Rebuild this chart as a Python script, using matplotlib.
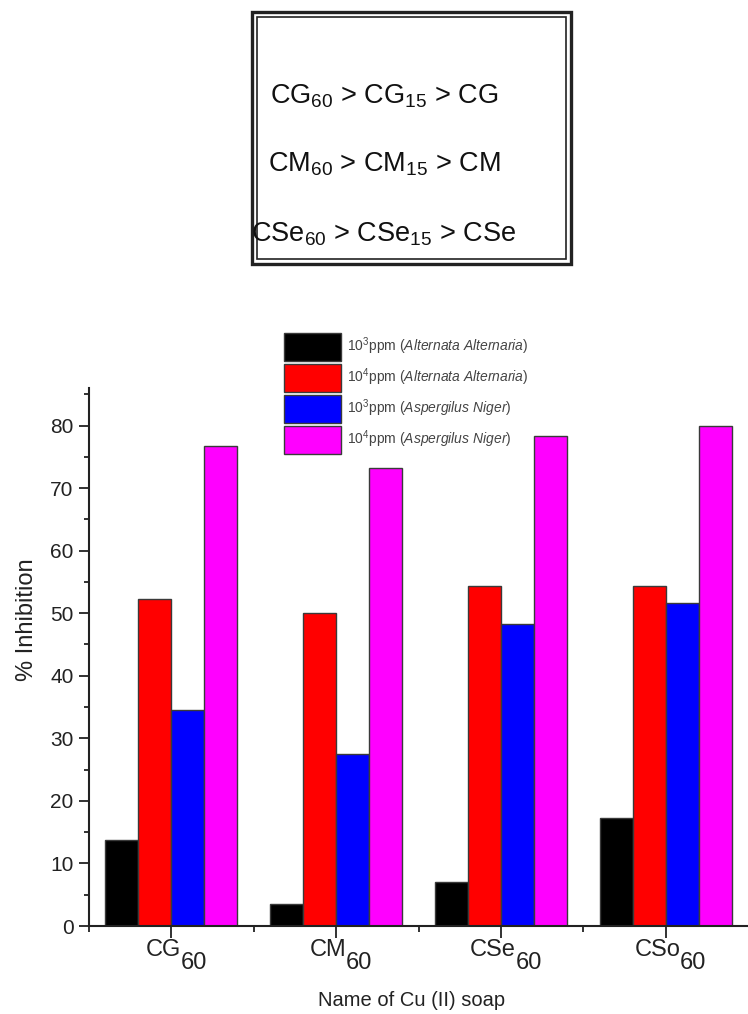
import matplotlib
matplotlib.use("Agg")
import matplotlib.pyplot as plt
import numpy as np
from matplotlib.patches import Rectangle
from matplotlib.offsetbox import TextArea, HPacker, VPacker, DrawingArea, AnnotationBbox
from matplotlib.ticker import FixedLocator

plt.rcParams['font.family'] = ['Liberation Sans', 'DejaVu Sans']
plt.rcParams['mathtext.fontset'] = 'custom'
plt.rcParams['mathtext.rm'] = 'Liberation Sans'
plt.rcParams['mathtext.it'] = 'Liberation Sans:italic'
plt.rcParams['mathtext.bf'] = 'Liberation Sans:bold'

# ---------------- data ----------------
cat_base = ["CG", "CM", "CSe", "CSo"]
cat_sub = ["60", "60", "60", "60"]
series_labels = [
    r"10$^{3}$ppm ($\mathit{Alternata\ Alternaria}$)",
    r"10$^{4}$ppm ($\mathit{Alternata\ Alternaria}$)",
    r"10$^{3}$ppm ($\mathit{Aspergilus\ Niger}$)",
    r"10$^{4}$ppm ($\mathit{Aspergilus\ Niger}$)",
]
alt_1e3 = [13.8, 3.5, 7.0, 17.3]
alt_1e4 = [52.2, 50.0, 54.4, 54.4]
asp_1e3 = [34.5, 27.5, 48.3, 51.7]
asp_1e4 = [76.7, 73.2, 78.3, 80.0]
series_values = [alt_1e3, alt_1e4, asp_1e3, asp_1e4]
series_colors = ["#000000", "#ff0000", "#0000ff", "#ff00ff"]

box_lines = [
    r"CG$_{60}$ > CG$_{15}$ > CG",
    r"CM$_{60}$ > CM$_{15}$ > CM",
    r"CSe$_{60}$ > CSe$_{15}$ > CSe",
]

W, H = 748, 1014
fig = plt.figure(figsize=(W / 100, H / 100), dpi=100)

def fx(px):
    return px / W

def fy(py):
    return 1 - py / H

# ---------------- top box ----------------
outer = Rectangle((fx(252), fy(264)), fx(571) - fx(252), fy(12) - fy(264),
                  transform=fig.transFigure, fill=False, lw=2.4, ec="#222222")
inner = Rectangle((fx(257), fy(259)), fx(566) - fx(257), fy(17) - fy(259),
                  transform=fig.transFigure, fill=False, lw=1.2, ec="#222222")
fig.add_artist(outer)
fig.add_artist(inner)
for line, ypx in zip(box_lines, [103, 172, 242]):
    fig.text(fx(384), fy(ypx), line, ha="center", va="baseline", fontsize=19.5, color="#111111")

# ---------------- bar chart ----------------
ax = fig.add_axes([fx(89), fy(926), 1 - fx(89), fy(388) - fy(926)])
x = np.arange(len(cat_base))
bw = 0.2
handles = []
for k, (vals, col, lab) in enumerate(zip(series_values, series_colors, series_labels)):
    b = ax.bar(x + (k - 1.5) * bw, vals, width=bw, color=col, edgecolor="#3a3a3a",
               linewidth=1.0, label=lab, zorder=2)
    handles.append(b)

ax.set_xlim(-0.5, 3.5)
ax.set_ylim(0, 86)
for s in ["top", "right"]:
    ax.spines[s].set_visible(False)
for s in ["left", "bottom"]:
    ax.spines[s].set_linewidth(1.5)
    ax.spines[s].set_color("#222222")

ax.set_yticks(np.arange(0, 81, 10))
ax.yaxis.set_minor_locator(FixedLocator(np.arange(5, 86, 10)))
ax.tick_params(axis="y", which="major", direction="out", length=7, width=1.3,
               labelsize=15, color="#222222", labelcolor="#222222", pad=4)
ax.tick_params(axis="y", which="minor", direction="out", length=3.5, width=1.3, color="#222222")

ax.set_xticks(x)
ax.set_xticklabels([""] * len(x))
ax.xaxis.set_minor_locator(FixedLocator([-0.5, 0.5, 1.5, 2.5]))
ax.tick_params(axis="x", which="major", direction="out", length=8.5, width=1.3, color="#222222")
ax.tick_params(axis="x", which="minor", direction="out", length=4.5, width=1.3, color="#222222")

# category labels with large, lowered subscripts
for i, (base, sub) in enumerate(zip(cat_base, cat_sub)):
    t1 = TextArea(base, textprops=dict(fontsize=17, color="#222222"))
    t2 = TextArea(sub, textprops=dict(fontsize=17, color="#222222"))
    spacer = DrawingArea(1, 9.5)
    sub_box = VPacker(children=[spacer, t2], align="left", pad=0, sep=0)
    packed = HPacker(children=[t1, sub_box], align="top", pad=0, sep=0)
    ab = AnnotationBbox(packed, (x[i], 0), xycoords=("data", "axes fraction"),
                        xybox=(3.5, -9.5), boxcoords="offset points",
                        box_alignment=(0.5, 1.0), frameon=False, annotation_clip=False)
    ax.add_artist(ab)

ax.set_ylabel("% Inhibition", fontsize=17, color="#222222")
ax.yaxis.set_label_coords(-0.078, 0.569)
ax.set_xlabel("Name of Cu (II) soap", fontsize=14.5, color="#222222", labelpad=35)
ax.xaxis.set_label_coords(0.49, -0.12)
ax.xaxis.label.set_va("top")

fig.legend(handles=handles, labels=series_labels, loc="upper left",
           bbox_to_anchor=(fx(284), fy(333)), bbox_transform=fig.transFigure,
           frameon=False, fontsize=10, handlelength=4.1, handleheight=2.72,
           labelspacing=0.216, handletextpad=0.43, borderpad=0, borderaxespad=0,
           labelcolor="#444444")

fig.savefig("out.png", dpi=100)
